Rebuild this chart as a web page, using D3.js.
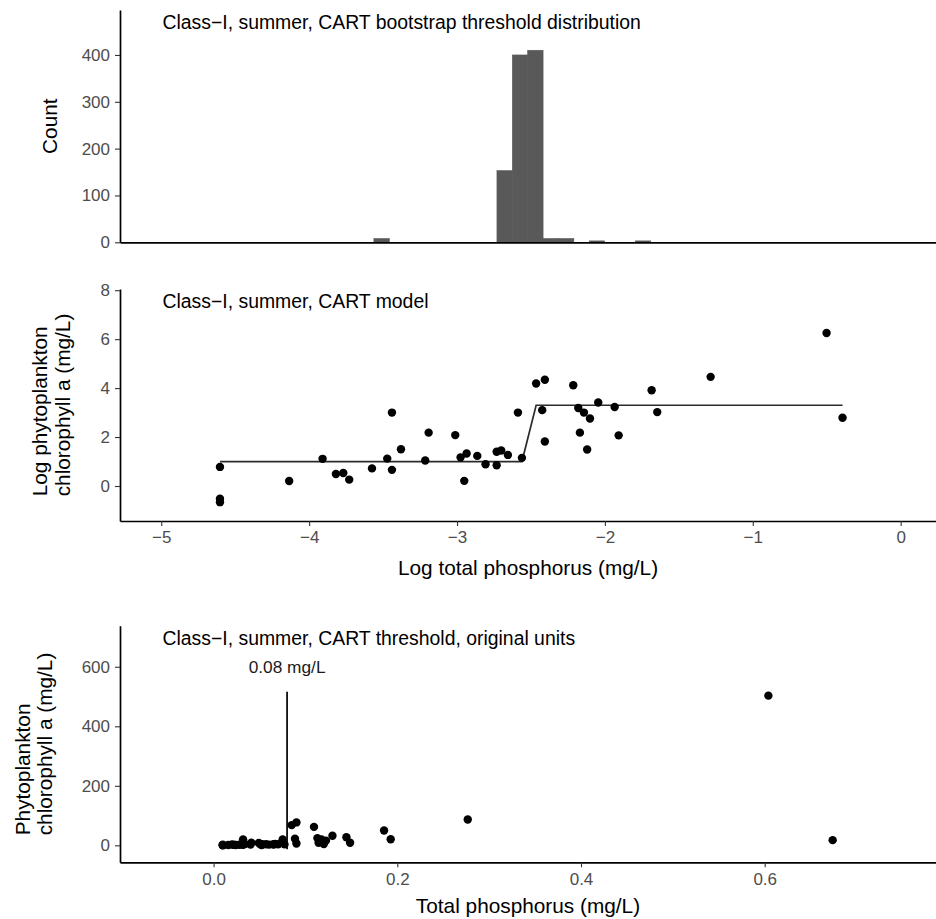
<!DOCTYPE html>
<html><head><meta charset="utf-8">
<script src="https://cdn.jsdelivr.net/npm/d3@7"></script>
<style>body{margin:0;background:#fff} svg{display:block}</style>
</head><body><svg id="c" width="936" height="919"></svg>
<script>
// ---------- DATA ----------
// Panel 1: bootstrap threshold histogram (log TP bins)
const histBinStart = [-3.562, -2.730, -2.626, -2.522, -2.418, -2.314, -2.106, -1.794];
const histCounts   = [8, 153, 400, 410, 8, 8, 3, 3];
const histBinWidth = 0.104;
const histYTicks = [0, 100, 200, 300, 400];

// Panel 2: CART model (log units)
const logTP = [-4.603, -4.603, -4.603, -4.135, -3.909, -3.819, -3.769, -3.729, -3.575, -3.472,
               -3.440, -3.440, -3.379, -3.215, -3.192, -3.012, -2.976, -2.935, -2.951, -2.863,
               -2.807, -2.732, -2.732, -2.701, -2.656, -2.588, -2.561, -2.465, -2.406, -2.424,
               -2.406, -2.214, -2.180, -2.142, -2.101, -2.169, -2.120, -2.045, -1.934, -1.907,
               -1.684, -1.646, -1.285, -0.501, -0.393];
const logChl = [0.78, -0.52, -0.66, 0.205, 1.11, 0.49, 0.53, 0.26, 0.72, 1.12,
                3.00, 0.66, 1.50, 1.04, 2.18, 2.08, 1.17, 1.33, 0.21, 1.23,
                0.89, 1.40, 0.85, 1.45, 1.27, 3.00, 1.15, 4.19, 4.34, 3.10,
                1.82, 4.12, 3.19, 3.00, 2.76, 2.18, 1.49, 3.41, 3.23, 2.07,
                3.91, 3.02, 4.46, 6.25, 2.79];
const cartFitX = [-4.603, -2.561, -2.465, -0.393];
const cartFitY = [1.00, 1.00, 3.30, 3.30];
const logXTicks = [-5, -4, -3, -2, -1, 0];
const logYTicks = [0, 2, 4, 6, 8];

// Panel 3: original units
const tp  = [0.0100, 0.0100, 0.0100, 0.0160, 0.0201, 0.0219, 0.0231, 0.0240, 0.0280, 0.0311,
             0.0321, 0.0321, 0.0341, 0.0402, 0.0411, 0.0492, 0.0510, 0.0531, 0.0523, 0.0571,
             0.0604, 0.0651, 0.0651, 0.0671, 0.0702, 0.0752, 0.0772, 0.0850, 0.0902, 0.0886,
             0.0902, 0.1093, 0.1130, 0.1174, 0.1223, 0.1143, 0.1200, 0.1294, 0.1446, 0.1486,
             0.1856, 0.1928, 0.2767, 0.6040, 0.6740];
const chl = [2.2, 0.6, 0.5, 1.2, 3.0, 1.6, 1.7, 1.3, 2.1, 3.1,
             20.1, 1.9, 4.5, 2.8, 8.9, 8.0, 3.2, 3.8, 1.2, 3.4,
             2.4, 4.1, 2.3, 4.3, 3.6, 20.1, 3.2, 68, 77, 22.2,
             6.2, 62, 24.3, 20.1, 15.8, 8.9, 4.4, 32, 27, 8.7,
             50, 20.5, 87, 503, 17.5];
const thresholdTP = 0.08;
const thresholdSegY = [-13, 516];
const thresholdLabel = "0.08 mg/L";
const thresholdLabelY = 600;
const tpXTicks = [0, 0.2, 0.4, 0.6];
const chlYTicks = [0, 200, 400, 600];

const titles = ["Class\u2212I, summer, CART bootstrap threshold distribution",
                "Class\u2212I, summer, CART model",
                "Class\u2212I, summer, CART threshold, original units"];

// ---------- LAYOUT ----------
const FONT = "'Liberation Sans', Arial, Helvetica, sans-serif";
const L = 120, R = 936;
const P1 = {top: 10, bottom: 242.3};
const P2 = {top: 289, bottom: 521};
const P3 = {top: 625.7, bottom: 862.3};

const svg = d3.select("#c").style("font-family", FONT);

const xLog = d3.scaleLinear().domain([-5.279, 0.239]).range([L, R]);
const yHist = d3.scaleLinear().domain([0, 496]).range([P1.bottom, P1.top]);
const yLog = d3.scaleLinear().domain([-1.43, 8.05]).range([P2.bottom, P2.top]);
const xTP = d3.scaleLinear().domain([-0.1019, 0.7865]).range([L, R]);
const yChl = d3.scaleLinear().domain([-57, 738]).range([P3.bottom, P3.top]);

const minusFmt = v => String(v).replace("-", "\u2212");

function styleAxis(g) {
  g.select(".domain").attr("stroke", "#000").attr("stroke-width", 1.7);
  g.selectAll(".tick line").attr("stroke", "#333").attr("stroke-width", 1.1);
  g.selectAll(".tick text").attr("fill", "#4D4D4D").style("font-size", "17px").style("font-family", FONT);
}

// ---------- PANEL 1 ----------
svg.append("g").selectAll("rect").data(histBinStart.map((s, i) => ({s, c: histCounts[i]})))
  .join("rect")
  .attr("x", d => xLog(d.s))
  .attr("width", d => xLog(d.s + histBinWidth) - xLog(d.s))
  .attr("y", d => yHist(d.c))
  .attr("height", d => yHist(0) - yHist(d.c))
  .attr("fill", "#595959").attr("stroke", "#595959").attr("stroke-width", 0.6);

svg.append("g").attr("transform", `translate(${L},0)`)
  .call(d3.axisLeft(yHist).tickValues(histYTicks).tickSize(5).tickSizeOuter(0).tickPadding(5))
  .call(styleAxis);
svg.append("g").attr("transform", `translate(0,${P1.bottom})`)
  .call(d3.axisBottom(xLog).tickValues([]).tickSizeOuter(0))
  .call(styleAxis);

// ---------- PANEL 2 ----------
const fitLine = d3.line().x(d => xLog(d[0])).y(d => yLog(d[1]));
svg.append("path").datum(cartFitX.map((x, i) => [x, cartFitY[i]]))
  .attr("d", fitLine).attr("fill", "none").attr("stroke", "#2b2b2b").attr("stroke-width", 1.7);
svg.append("g").selectAll("circle").data(logTP.map((x, i) => [x, logChl[i]]))
  .join("circle")
  .attr("cx", d => xLog(d[0])).attr("cy", d => yLog(d[1])).attr("r", 4.2).attr("fill", "#000");

svg.append("g").attr("transform", `translate(${L},0)`)
  .call(d3.axisLeft(yLog).tickValues(logYTicks).tickSize(5).tickSizeOuter(0).tickPadding(5))
  .call(styleAxis);
svg.append("g").attr("transform", `translate(0,${P2.bottom})`)
  .call(d3.axisBottom(xLog).tickValues(logXTicks).tickFormat(minusFmt).tickSize(5).tickSizeOuter(0).tickPadding(4.5))
  .call(styleAxis);

// ---------- PANEL 3 ----------
svg.append("line")
  .attr("x1", xTP(thresholdTP)).attr("x2", xTP(thresholdTP))
  .attr("y1", yChl(thresholdSegY[0])).attr("y2", yChl(thresholdSegY[1]))
  .attr("stroke", "#000").attr("stroke-width", 1.7);
svg.append("text").attr("x", xTP(thresholdTP)).attr("y", yChl(thresholdLabelY))
  .attr("dy", "0.36em").attr("text-anchor", "middle").attr("fill", "#1a1a1a")
  .style("font-size", "17.3px").text(thresholdLabel);
svg.append("g").selectAll("circle").data(tp.map((x, i) => [x, chl[i]]))
  .join("circle")
  .attr("cx", d => xTP(d[0])).attr("cy", d => yChl(d[1])).attr("r", 4.2).attr("fill", "#000");

svg.append("g").attr("transform", `translate(${L},0)`)
  .call(d3.axisLeft(yChl).tickValues(chlYTicks).tickSize(5).tickSizeOuter(0).tickPadding(5))
  .call(styleAxis);
svg.append("g").attr("transform", `translate(0,${P3.bottom})`)
  .call(d3.axisBottom(xTP).tickValues(tpXTicks).tickFormat(d3.format(".1f")).tickSize(5).tickSizeOuter(0).tickPadding(5.5))
  .call(styleAxis);

// ---------- TEXT ----------
[P1, P2, P3].forEach((p, i) => {
  svg.append("text").attr("x", 162.5).attr("y", p.top + 19)
    .style("font-size", "19.4px").attr("fill", "#000").text(titles[i]);
});

const midX = (L + R) / 2;
svg.append("text").attr("x", midX).attr("y", 575).attr("text-anchor", "middle")
  .style("font-size", "20.8px").text("Log total phosphorus (mg/L)");
svg.append("text").attr("x", midX).attr("y", 913).attr("text-anchor", "middle")
  .style("font-size", "20.8px").text("Total phosphorus (mg/L)");

svg.append("text").attr("transform", `translate(57,${(P1.top + P1.bottom) / 2}) rotate(-90)`)
  .attr("text-anchor", "middle").style("font-size", "20.8px").text("Count");

function yTitle(lines, xs, p) {
  const g = svg.append("g");
  const ts = lines.map((s, i) => g.append("text").style("font-size", "20.8px").attr("text-anchor", "start").text(s));
  const w = d3.max(ts, t => t.node().getComputedTextLength());
  const startY = (p.top + p.bottom) / 2 + w / 2;
  ts.forEach((t, i) => t.attr("transform", `translate(${xs[i]},${startY}) rotate(-90)`));
}
yTitle(["Log phytoplankton", "chlorophyll a (mg/L)"], [47, 69.5], P2);
yTitle(["Phytoplankton", "chlorophyll a (mg/L)"], [29.5, 52], P3);
</script>
</body></html>
